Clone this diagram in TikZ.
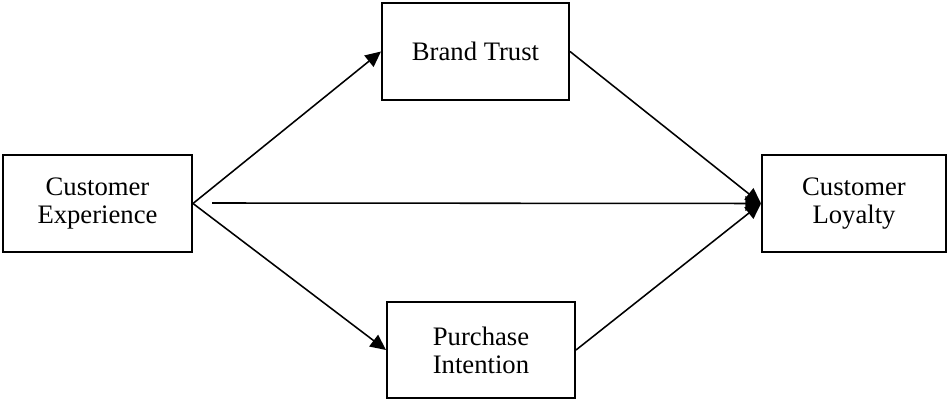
\documentclass[tikz,border=0pt]{standalone}
\usepackage{fontspec}
\setmainfont{Liberation Serif}
\usepackage{tikz}
\usetikzlibrary{positioning,arrows.meta}

\tikzset{
  varbox/.style={draw, line width=0.9pt, inner sep=0pt, align=center,
    minimum height=97*0.45pt, font=\fontsize{12}{12.6}\selectfont},
  path/.style={line width=0.7pt, -{Triangle[length=7pt,width=6.5pt]}}
}

\begin{document}
\begin{tikzpicture}[x=0.45pt, y=-0.45pt]
      \useasboundingbox (0,0) rectangle (949,402);
      \node[varbox, minimum width=189*0.45pt] (experience) at (97.5,203.5) {Customer\\Experience};
      \node[varbox, minimum width=187*0.45pt] (trust) at (475.5,51.5) {Brand Trust};
      \node[varbox, minimum width=188*0.45pt, minimum height=96*0.45pt] (intention) at (481,350) {Purchase\\Intention};
      \node[varbox, minimum width=184*0.45pt] (loyalty) at (854,203.5) {Customer\\Loyalty};
      \coordinate (direct) at (212,203);
      \draw[path] (experience.east) -- (trust.west);
      \draw[path] (experience.east) -- (intention.west);
      \draw[path] (direct) -- (loyalty.west);
      \draw[path] (trust.east) -- (loyalty.west);
      \draw[path] (intention.east) -- (loyalty.west);
    \end{tikzpicture}
\end{document}
